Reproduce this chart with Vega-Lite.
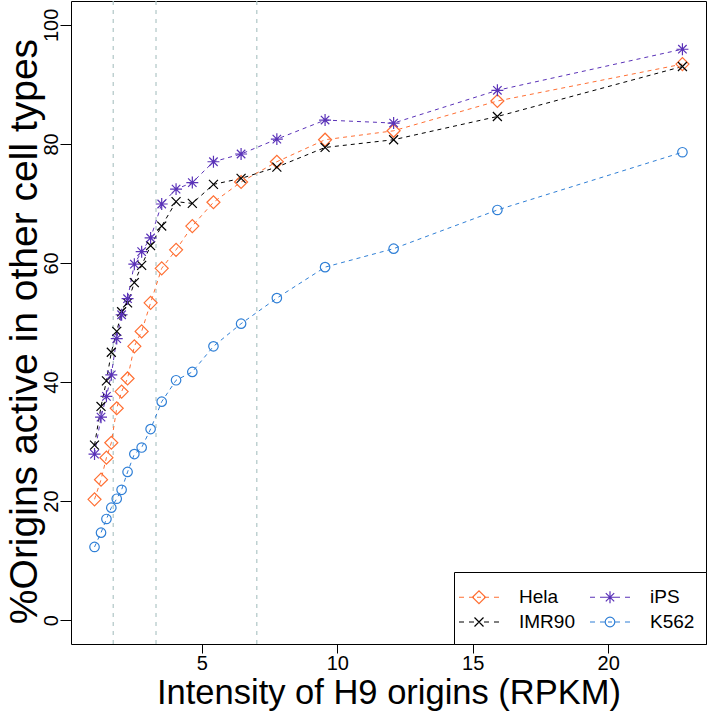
{
  "$schema": "https://vega.github.io/schema/vega-lite/v6.json",
  "width": 635,
  "height": 643,
  "autosize": {"type": "none"},
  "padding": {"left": 71, "top": 1, "right": 3, "bottom": 68},
  "background": "white",
  "config": {
    "view": {"stroke": "black", "strokeWidth": 1},
    "font": "Liberation Sans",
    "axis": {"grid": false, "domain": false, "tickColor": "black", "labelColor": "black", "titleColor": "black", "labelFont": "Liberation Sans", "titleFont": "Liberation Sans", "titleFontWeight": "normal", "labelFlush": false, "labelOverlap": false},
    "legend": {
      "orient": "bottom-right", "offset": 0, "padding": 11.5, "strokeColor": "black", "fillColor": "white",
      "columns": 2, "labelFontSize": 19, "labelColor": "black", "labelFont": "Liberation Sans",
      "symbolSize": 625, "symbolStrokeWidth": 1.2, "labelOffset": 26.5, "rowPadding": 1, "columnPadding": 12
    }
  },
  "resolve": {"scale": {"color": "independent", "shape": "independent"}},
  "datasets": {
    "pts": [
      {"series": "Hela", "x": 1.04, "y": 20.3}, {"series": "Hela", "x": 1.28, "y": 23.6}, {"series": "Hela", "x": 1.48, "y": 27.3}, {"series": "Hela", "x": 1.66, "y": 29.8}, {"series": "Hela", "x": 1.86, "y": 35.6},
      {"series": "Hela", "x": 2.04, "y": 38.4}, {"series": "Hela", "x": 2.26, "y": 40.6}, {"series": "Hela", "x": 2.51, "y": 46.0}, {"series": "Hela", "x": 2.78, "y": 48.5}, {"series": "Hela", "x": 3.11, "y": 53.3},
      {"series": "Hela", "x": 3.52, "y": 59.1}, {"series": "Hela", "x": 4.05, "y": 62.2}, {"series": "Hela", "x": 4.65, "y": 66.2}, {"series": "Hela", "x": 5.43, "y": 70.2}, {"series": "Hela", "x": 6.45, "y": 73.6},
      {"series": "Hela", "x": 7.77, "y": 77.0}, {"series": "Hela", "x": 9.55, "y": 80.7}, {"series": "Hela", "x": 12.08, "y": 82.2}, {"series": "Hela", "x": 15.91, "y": 87.2}, {"series": "Hela", "x": 22.74, "y": 93.4},
      {"series": "IMR90", "x": 1.04, "y": 29.4}, {"series": "IMR90", "x": 1.28, "y": 35.9}, {"series": "IMR90", "x": 1.48, "y": 40.2}, {"series": "IMR90", "x": 1.66, "y": 45.0}, {"series": "IMR90", "x": 1.86, "y": 48.5},
      {"series": "IMR90", "x": 2.04, "y": 51.8}, {"series": "IMR90", "x": 2.26, "y": 53.3}, {"series": "IMR90", "x": 2.51, "y": 56.7}, {"series": "IMR90", "x": 2.78, "y": 59.6}, {"series": "IMR90", "x": 3.11, "y": 62.9},
      {"series": "IMR90", "x": 3.52, "y": 66.2}, {"series": "IMR90", "x": 4.05, "y": 70.3}, {"series": "IMR90", "x": 4.65, "y": 70.0}, {"series": "IMR90", "x": 5.43, "y": 73.2}, {"series": "IMR90", "x": 6.45, "y": 74.2},
      {"series": "IMR90", "x": 7.77, "y": 76.1}, {"series": "IMR90", "x": 9.55, "y": 79.4}, {"series": "IMR90", "x": 12.08, "y": 80.7}, {"series": "IMR90", "x": 15.91, "y": 84.6}, {"series": "IMR90", "x": 22.74, "y": 93.0},
      {"series": "iPS", "x": 1.04, "y": 27.9}, {"series": "iPS", "x": 1.28, "y": 34.1}, {"series": "iPS", "x": 1.48, "y": 37.6}, {"series": "iPS", "x": 1.66, "y": 41.2}, {"series": "iPS", "x": 1.86, "y": 47.3},
      {"series": "iPS", "x": 2.04, "y": 51.3}, {"series": "iPS", "x": 2.26, "y": 54.0}, {"series": "iPS", "x": 2.51, "y": 59.8}, {"series": "iPS", "x": 2.78, "y": 61.9}, {"series": "iPS", "x": 3.11, "y": 64.2},
      {"series": "iPS", "x": 3.52, "y": 69.9}, {"series": "iPS", "x": 4.05, "y": 72.4}, {"series": "iPS", "x": 4.65, "y": 73.5}, {"series": "iPS", "x": 5.43, "y": 77.0}, {"series": "iPS", "x": 6.45, "y": 78.3},
      {"series": "iPS", "x": 7.77, "y": 80.8}, {"series": "iPS", "x": 9.55, "y": 84.0}, {"series": "iPS", "x": 12.08, "y": 83.5}, {"series": "iPS", "x": 15.91, "y": 89.0}, {"series": "iPS", "x": 22.74, "y": 95.9},
      {"series": "K562", "x": 1.04, "y": 12.3}, {"series": "K562", "x": 1.28, "y": 14.7}, {"series": "K562", "x": 1.48, "y": 17.0}, {"series": "K562", "x": 1.66, "y": 18.9}, {"series": "K562", "x": 1.86, "y": 20.4},
      {"series": "K562", "x": 2.04, "y": 21.9}, {"series": "K562", "x": 2.26, "y": 24.9}, {"series": "K562", "x": 2.51, "y": 27.9}, {"series": "K562", "x": 2.78, "y": 29.0}, {"series": "K562", "x": 3.11, "y": 32.1},
      {"series": "K562", "x": 3.52, "y": 36.7}, {"series": "K562", "x": 4.05, "y": 40.3}, {"series": "K562", "x": 4.65, "y": 41.7}, {"series": "K562", "x": 5.43, "y": 46.0}, {"series": "K562", "x": 6.45, "y": 49.8},
      {"series": "K562", "x": 7.77, "y": 54.1}, {"series": "K562", "x": 9.55, "y": 59.3}, {"series": "K562", "x": 12.08, "y": 62.4}, {"series": "K562", "x": 15.91, "y": 68.9}, {"series": "K562", "x": 22.74, "y": 78.6}
    ],
    "vlines": [{"v": 1.73}, {"v": 3.31}, {"v": 7.03}]
  },
  "layer": [
    {
      "data": {"name": "vlines"},
      "mark": {"type": "rule", "color": "#AFC6C6", "strokeWidth": 1.2, "strokeDash": [4, 5]},
      "encoding": {
        "x": {"field": "v", "type": "quantitative", "scale": {"domain": [0.172, 23.61], "nice": false, "zero": false}}
      }
    },
    {
      "data": {"name": "pts"},
      "mark": {"type": "line", "strokeWidth": 1, "strokeDash": [4, 4]},
      "encoding": {
        "x": {"field": "x", "type": "quantitative", "scale": {"domain": [0.172, 23.61], "nice": false, "zero": false},
              "axis": {"values": [5, 10, 15, 20], "tickSize": 9, "labelFontSize": 20, "labelPadding": 0, "title": "Intensity of H9 origins (RPKM)", "titleFontSize": 34.5, "titleX": 317.5, "titleY": 59, "titleBaseline": "alphabetic", "titleAlign": "center"}},
        "y": {"field": "y", "type": "quantitative", "scale": {"domain": [-4, 104], "nice": false, "zero": false},
              "axis": {"values": [0, 20, 40, 60, 80, 100], "tickSize": 11, "labelFontSize": 20, "labelPadding": 3, "labelAngle": -90, "labelAlign": "center", "labelBaseline": "alphabetic", "title": "%Origins active in other cell types", "titleFontSize": 39, "titleAngle": -90, "titleX": -35, "titleY": 330, "titleAlign": "center", "titleBaseline": "alphabetic"}},
        "color": {"field": "series", "type": "nominal", "scale": {"domain": ["Hela", "IMR90", "iPS", "K562"], "range": ["#FF6F33", "#000000", "#5A32B8", "#2F7FD6"]}, "legend": null},
        "detail": {"field": "series"}
      }
    },
    {
      "data": {"name": "pts"},
      "mark": {"type": "point", "filled": false, "size": 169, "strokeWidth": 1.2, "opacity": 1},
      "encoding": {
        "x": {"field": "x", "type": "quantitative"},
        "y": {"field": "y", "type": "quantitative"},
        "color": {"field": "series", "type": "nominal", "scale": {"domain": ["Hela", "IMR90", "iPS", "K562"], "range": ["#FF6F33", "#000000", "#5A32B8", "#2F7FD6"]}, "legend": null},
        "shape": {"field": "series", "type": "nominal",
                  "scale": {"domain": ["Hela", "IMR90", "iPS", "K562"], "range": ["M-1,0L0,-1L1,0L0,1Z", "M-0.69,-0.69L0.69,0.69M-0.69,0.69L0.69,-0.69", "M-0.92,0L0.92,0M0,-0.92L0,0.92M-0.65,-0.65L0.65,0.65M-0.65,0.65L0.65,-0.65", "M-0.73,0A0.73,0.73,0,1,0,0.73,0A0.73,0.73,0,1,0,-0.73,0Z"]},
                  "legend": null}
      }
    },
    {
      "data": {"name": "pts"},
      "transform": [{"filter": "datum.y > 1000"}],
      "mark": {"type": "point", "filled": false, "strokeWidth": 1.2, "opacity": 1},
      "encoding": {
        "x": {"field": "x", "type": "quantitative"},
        "y": {"field": "y", "type": "quantitative"},
        "color": {"field": "series", "type": "nominal", "scale": {"domain": ["Hela", "IMR90", "iPS", "K562"], "range": ["#FF6F33", "#000000", "#5A32B8", "#2F7FD6"]}, "legend": {"title": null}},
        "shape": {"field": "series", "type": "nominal",
                  "scale": {"domain": ["Hela", "IMR90", "iPS", "K562"], "range": [
                    "M-1.6,0L-1.2,0M-0.8,0L-0.4,0M-0.16,0L0.16,0M0.4,0L0.8,0M1.2,0L1.6,0M-0.52,0L0,-0.52L0.52,0L0,0.52Z",
                    "M-1.6,0L-1.2,0M-0.8,0L-0.4,0M0.4,0L0.8,0M1.2,0L1.6,0M-0.36,-0.36L0.36,0.36M-0.36,0.36L0.36,-0.36",
                    "M-1.6,0L-1.2,0M-0.8,0L-0.4,0M0.4,0L0.8,0M1.2,0L1.6,0M-0.48,0L0.48,0M0,-0.48L0,0.48M-0.336,-0.336L0.336,0.336M-0.336,0.336L0.336,-0.336",
                    "M-1.6,0L-1.2,0M-0.8,0L-0.4,0M-0.16,0L0.16,0M0.4,0L0.8,0M1.2,0L1.6,0M-0.384,0A0.384,0.384,0,1,0,0.384,0A0.384,0.384,0,1,0,-0.384,0Z"]},
                  "legend": {"title": null}}
      }
    }
  ]
}
